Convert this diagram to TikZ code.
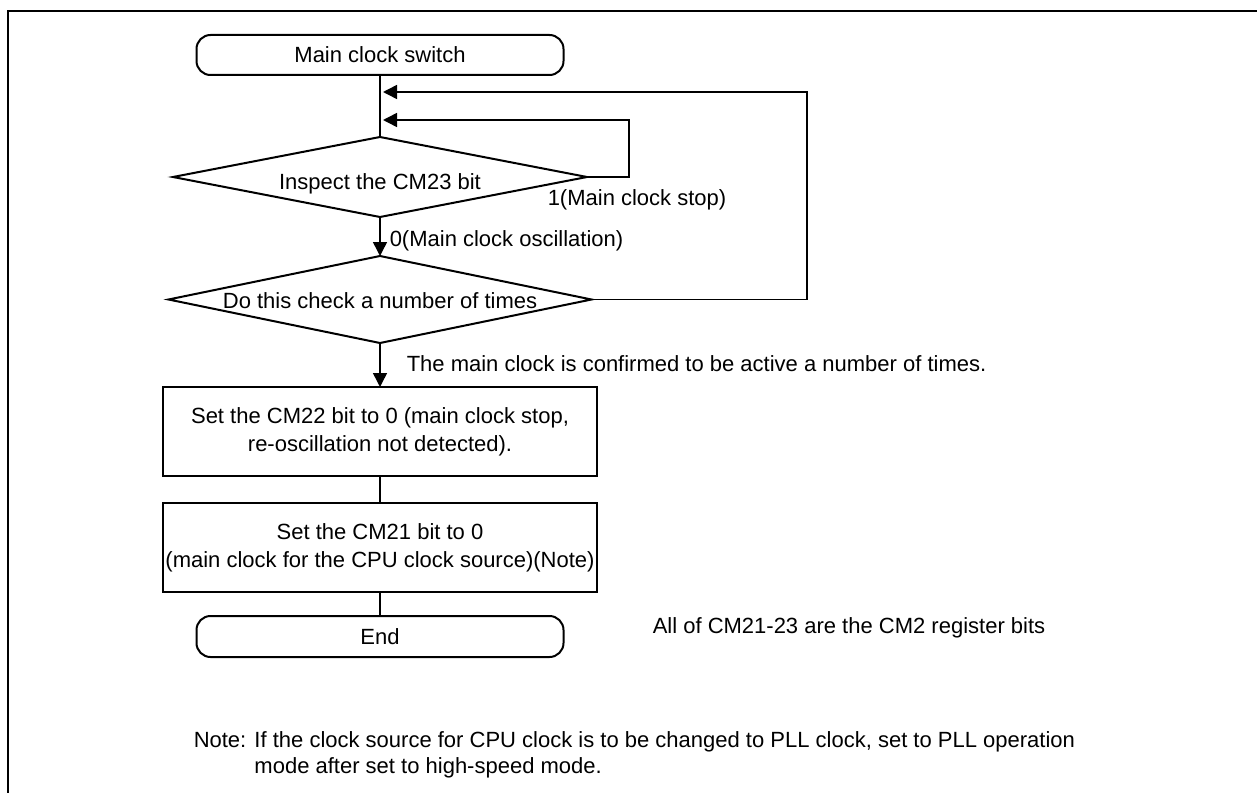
\documentclass[tikz,border=0pt]{standalone}
\usepackage{fontspec}
\setmainfont{Liberation Sans}
\usetikzlibrary{shapes.geometric, arrows.meta, positioning}

\begin{document}
\begin{tikzpicture}[x=0.5pt, y=-0.5pt, >={Triangle[length=7pt, width=7pt]}, line width=0.75pt, font=\fontsize{11}{14}\selectfont,
  term/.style={draw, rounded corners=7pt, line width=1pt, outer sep=0pt, inner sep=0pt, minimum width=183.5pt, minimum height=20pt},
  cond/.style={draw, diamond, line width=1pt, outer sep=0pt, inner sep=0pt, text depth=2.3pt},
  proc/.style={draw, align=center, line width=1pt, outer sep=0pt, inner sep=0pt, minimum width=217pt, minimum height=44.5pt},
  txt/.style={inner sep=0pt, anchor=west}]
\useasboundingbox (0,0) rectangle (1257,792);
\begin{scope}
\clip (0,0) rectangle (1257,792);
\draw[line width=1pt] (8,11) rectangle (1300,840);
\end{scope}
\node[term] (start) at (380,55) {Main clock switch};
\node[cond, minimum width=207pt, minimum height=40pt, text height=14.3pt, below=31pt of start] (inspect) {\makebox[0pt]{Inspect the CM23 bit}};
\node[cond, minimum width=211.5pt, minimum height=43.5pt, text height=10.8pt, below=19.5pt of inspect] (times) {\makebox[0pt]{Do this check a number of times}};
\node[proc, below=22pt of times] (clr22) {Set the CM22 bit to 0 (main clock stop,\\re-oscillation not detected).};
\node[proc, below=13.5pt of clr22] (clr21) {Set the CM21 bit to 0\\(main clock for the CPU clock source)(Note)};
\node[term, minimum height=20.5pt, below=12pt of clr21] (finish) {End};
\coordinate (loopin) at (629,120);
\coordinate (loopout) at (807,92);
\draw (start) -- (inspect);
\draw[->] (inspect) -- (times);
\draw[->] (times) -- (clr22);
\draw (clr22) -- (clr21);
\draw (clr21) -- (finish);
\draw[->, shorten >=1.5pt] (inspect.east) -| (loopin) -- (start |- loopin);
\draw[->, shorten >=1.5pt] ([xshift=1.5pt]times.east) -| (loopout) -- (start |- loopout);
\node[txt] (stop) at (547,200) {1(Main clock stop)};
\node[txt] (osc) at (389,241) {0(Main clock oscillation)};
\node[txt] (confirm) at (406,364) {The main clock is confirmed to be active a number of times.};
\node[txt] (regs) at (652,628) {All of CM21-23 are the CM2 register bits};
\node[txt, anchor=north west, align=left, font=\fontsize{11}{13}\selectfont] (remark) at (193,731) {Note: If the clock source for CPU clock is to be changed to PLL clock, set to PLL operation\\\phantom{Note: }mode after set to high-speed mode.};
\end{tikzpicture}
\end{document}
